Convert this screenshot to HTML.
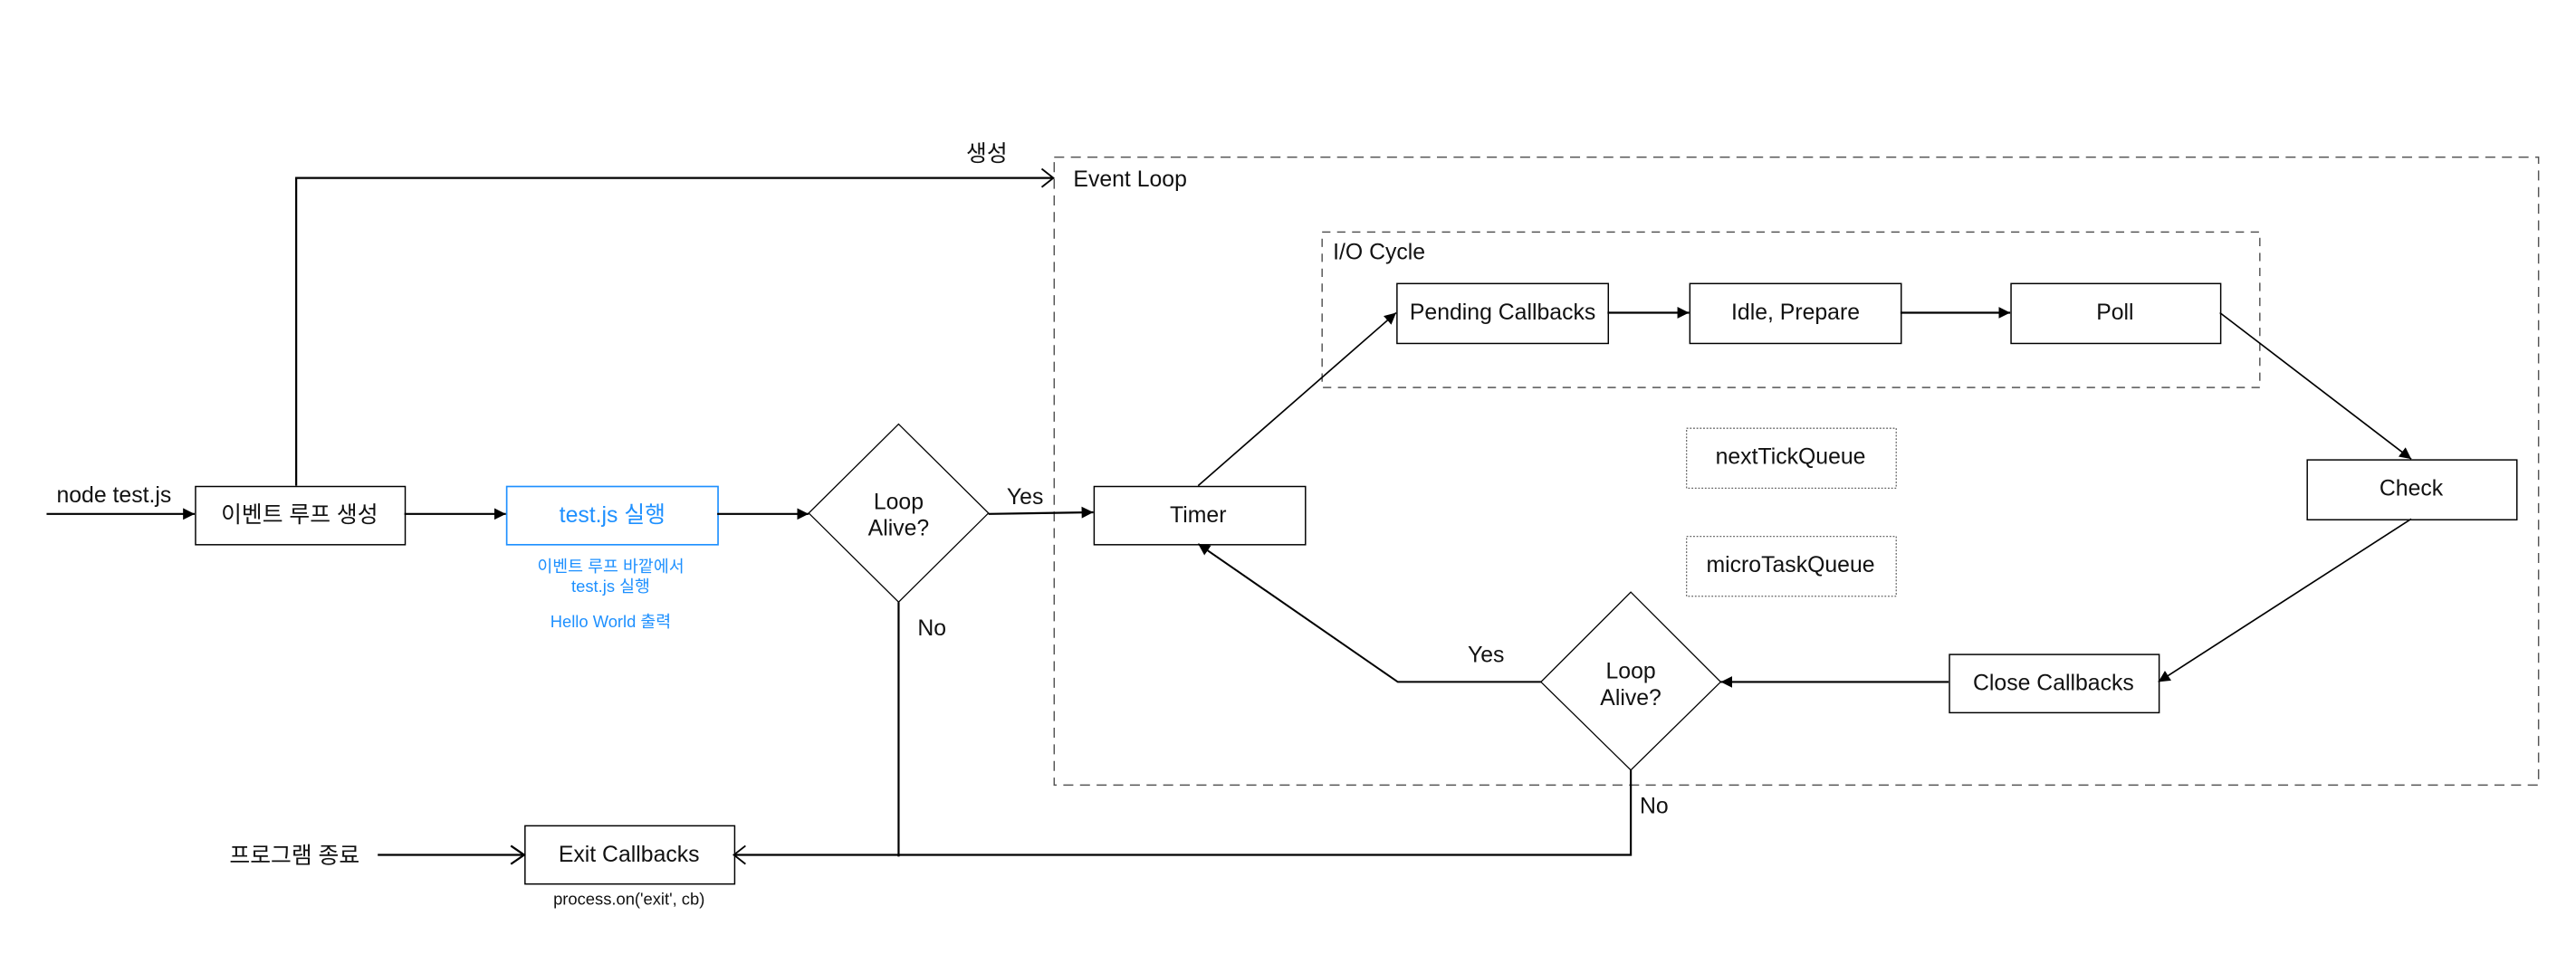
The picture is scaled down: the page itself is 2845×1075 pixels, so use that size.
<!DOCTYPE html>
<html><head><meta charset="utf-8"><style>
html,body{margin:0;padding:0;background:#fff;}
svg{display:block;}
text{font-family:"Liberation Sans","Noto Sans CJK KR",sans-serif;font-size:13.5px;fill:#111;}
</style></head><body>
<svg width="2845" height="1075" viewBox="0 0 1548 585" preserveAspectRatio="none" xmlns="http://www.w3.org/2000/svg">
<defs>
<marker id="a" markerWidth="8" markerHeight="8" refX="7" refY="4" orient="auto" markerUnits="userSpaceOnUse"><path d="M0,0.5 L7,4 L0,7.5 Z" fill="#000"/></marker>
<marker id="o" markerWidth="10" markerHeight="12" refX="1" refY="6" orient="auto" markerUnits="userSpaceOnUse"><path d="M9,0.5 L1,6 L9,11.5" fill="none" stroke="#000" stroke-width="1.2"/></marker>
<marker id="o2" markerWidth="10" markerHeight="12" refX="8" refY="6" orient="auto" markerUnits="userSpaceOnUse"><path d="M1,0.5 L8,6 L1,11.5" fill="none" stroke="#000" stroke-width="1"/></marker>
</defs>
<g fill="none" stroke="#000">
<!-- containers -->
<rect x="633.5" y="94.5" width="892" height="377.5" stroke="#555" stroke-width="0.8" stroke-dasharray="6,4"/>
<rect x="794.5" y="139.5" width="563.5" height="93.5" stroke="#555" stroke-width="0.8" stroke-dasharray="5,4"/>
<!-- boxes -->
<rect x="117.5" y="292.5" width="126" height="35" stroke-width="0.8"/>
<rect x="304.5" y="292.5" width="127" height="35" stroke="#1e90ff" stroke-width="0.9"/>
<rect x="657.5" y="292.5" width="127" height="35" stroke-width="0.8"/>
<rect x="315.5" y="496.5" width="126" height="35" stroke-width="0.8"/>
<rect x="839.5" y="170.5" width="127" height="36" stroke-width="0.8"/>
<rect x="1015.5" y="170.5" width="127" height="36" stroke-width="0.8"/>
<rect x="1208.5" y="170.5" width="126" height="36" stroke-width="0.8"/>
<rect x="1386.5" y="276.5" width="126" height="36" stroke-width="0.8"/>
<rect x="1171.5" y="393.5" width="126" height="35" stroke-width="0.8"/>
<rect x="1013.5" y="257.5" width="126" height="36" stroke="#666" stroke-width="0.7" stroke-dasharray="1,1"/>
<rect x="1013.5" y="322.5" width="126" height="36" stroke="#666" stroke-width="0.7" stroke-dasharray="1,1"/>
<path d="M540,255 L594,308.5 L540,362 L486,308.5 Z" stroke-width="0.7"/>
<path d="M980,356 L1034,410 L980,463 L926,410 Z" stroke-width="0.7"/>
<!-- connectors -->
<g stroke-width="1.2">
<line x1="28" y1="309" x2="117" y2="309" marker-end="url(#a)"/>
<line x1="243" y1="309" x2="304" y2="309" marker-end="url(#a)"/>
<line x1="431" y1="309" x2="486" y2="309" marker-end="url(#a)"/>
<line x1="594" y1="309" x2="657" y2="308" marker-end="url(#a)"/>
<polyline points="178,292 178,107 633,107" marker-end="url(#o2)"/>
<line x1="540" y1="362" x2="540" y2="515"/>
<polyline points="980,463 980,514 441,514" marker-end="url(#o2)"/>
<line x1="315" y1="514" x2="227" y2="514" marker-start="url(#o)"/>
<line x1="966" y1="188" x2="1015" y2="188" marker-end="url(#a)"/>
<line x1="1142" y1="188" x2="1208" y2="188" marker-end="url(#a)"/>
<line x1="1171" y1="410" x2="1034" y2="410" marker-end="url(#a)"/>
</g>
<g stroke-width="0.9">
<line x1="720" y1="292" x2="839" y2="188" marker-end="url(#a)"/>
<line x1="1334" y1="188" x2="1449" y2="276" marker-end="url(#a)"/>
<line x1="1449" y1="312" x2="1297" y2="410" marker-end="url(#a)"/>
<polyline points="926,410 840,410 720,327" marker-end="url(#a)" stroke-width="1.1"/>
</g>
</g>
<!-- labels -->
<text x="34" y="302">node test.js</text>
<text x="180" y="314" text-anchor="middle">이벤트 루프 생성</text>
<text x="368" y="314" text-anchor="middle" style="fill:#1e90ff">test.js 실행</text>
<text x="367" y="344" text-anchor="middle" style="fill:#1e90ff;font-size:10px">이벤트 루프 바깥에서</text>
<text x="367" y="356" text-anchor="middle" style="fill:#1e90ff;font-size:10px">test.js 실행</text>
<text x="367" y="377" text-anchor="middle" style="fill:#1e90ff;font-size:10px">Hello World 출력</text>
<text x="540" y="306" text-anchor="middle">Loop</text>
<text x="540" y="322" text-anchor="middle">Alive?</text>
<text x="616" y="303" text-anchor="middle">Yes</text>
<text x="560" y="382" text-anchor="middle">No</text>
<text x="593" y="97" text-anchor="middle">생성</text>
<text x="645" y="112">Event Loop</text>
<text x="801" y="156">I/O Cycle</text>
<text x="720" y="314" text-anchor="middle">Timer</text>
<text x="903" y="192" text-anchor="middle">Pending Callbacks</text>
<text x="1079" y="192" text-anchor="middle">Idle, Prepare</text>
<text x="1271" y="192" text-anchor="middle">Poll</text>
<text x="1449" y="298" text-anchor="middle">Check</text>
<text x="1234" y="415" text-anchor="middle">Close Callbacks</text>
<text x="1076" y="279" text-anchor="middle">nextTickQueue</text>
<text x="1076" y="344" text-anchor="middle">microTaskQueue</text>
<text x="980" y="408" text-anchor="middle">Loop</text>
<text x="980" y="424" text-anchor="middle">Alive?</text>
<text x="893" y="398" text-anchor="middle">Yes</text>
<text x="994" y="489" text-anchor="middle">No</text>
<text x="378" y="518" text-anchor="middle">Exit Callbacks</text>
<text x="378" y="544" text-anchor="middle" style="font-size:10px">process.on('exit', cb)</text>
<text x="177" y="519" text-anchor="middle">프로그램 종료</text>
</svg>
</body></html>
